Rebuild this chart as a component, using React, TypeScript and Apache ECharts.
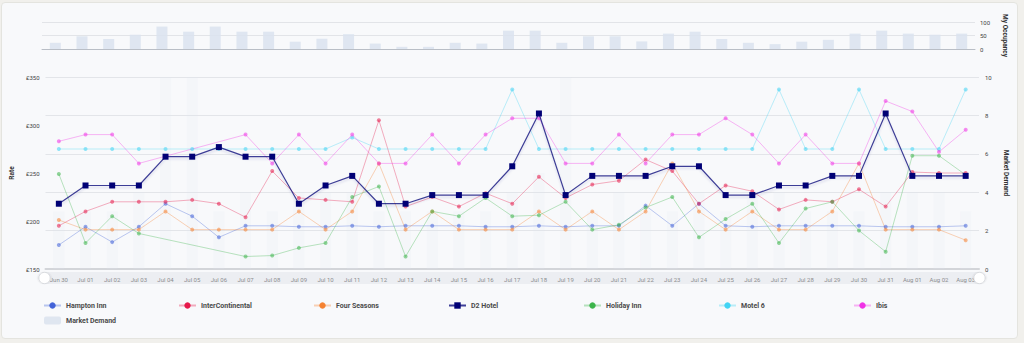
import React, { useEffect, useRef } from 'react';
import * as echarts from 'echarts';

const categories = [
  'Jun 30', 'Jul 01', 'Jul 02', 'Jul 03', 'Jul 04', 'Jul 05', 'Jul 06', 'Jul 07', 'Jul 08', 'Jul 09',
  'Jul 10', 'Jul 11', 'Jul 12', 'Jul 13', 'Jul 14', 'Jul 15', 'Jul 16', 'Jul 17', 'Jul 18', 'Jul 19',
  'Jul 20', 'Jul 21', 'Jul 22', 'Jul 23', 'Jul 24', 'Jul 25', 'Jul 26', 'Jul 27', 'Jul 28', 'Jul 29',
  'Jul 30', 'Jul 31', 'Aug 01', 'Aug 02', 'Aug 03',
];

const occupancy = [23, 47, 37, 53, 83, 64, 83, 64, 64, 27, 38, 55, 20, 8, 8, 23, 20, 68, 68, 23, 47, 47, 28, 57, 64, 37, 23, 18, 27, 34, 57, 68, 57, 53, 57];

const marketDemand = [3, 3, 3, 4, 10, 10, 3, 4, 3, 4, 4, 4, 3, 3, 3, 3, 3, 4, 5, 10, 3, 4, 3, 3, 4, 3, 4, 4, 3, 3, 3, 4, 4, 4, 3];

const hamptonInn = [175, 194, 178, 194, 218, 205, 183, 195, 195, 194, 194, 195, 194, 195, 195, 195, 194, 194, 195, 194, 195, 195, 216, 195, 218, 195, 194, 195, 195, 195, 195, 194, 194, 194, 195];
const interContinental = [195, 210, 220, 220, 220, 222, 218, 204, 252, 224, 222, 220, 305, 215, 225, 215, 229, 218, 246, 224, 238, 242, 264, 252, 218, 237, 231, 212, 222, 220, 233, 215, 251, 250, 250];
const fourSeasons = [201, 191, 191, 191, 210, 191, 191, 191, 191, 210, 191, 210, 260, 191, 210, 191, 191, 191, 210, 191, 210, 191, 210, 260, 210, 191, 210, 191, 191, 210, 260, 191, 191, 191, 180];
const d2Hotel = [218, 237, 237, 237, 267, 267, 277, 267, 267, 218, 237, 247, 218, 218, 227, 227, 227, 257, 312, 227, 247, 247, 247, 257, 257, 227, 227, 237, 237, 247, 247, 312, 247, 247, 247];
const holidayInn = [249, 177, 205, 187, null, null, null, 163, 164, 172, 177, 225, 236, 163, 210, 205, 224, 205, 206, 220, 191, 196, 214, 225, 183, 202, 218, 177, 213, 220, 190, 168, 268, 268, 248];
const motel6 = [275, 275, 275, 275, 275, 275, 275, 275, 275, 275, 275, 287, 275, 275, 275, 275, 275, 337, 275, 275, 275, 275, 275, 275, 275, 275, 275, 337, 275, 275, 337, 275, 275, 275, 337];
const ibis = [283, 290, 290, 260, null, null, null, 290, 260, 290, 260, 290, 260, 260, 290, 260, 290, 307, 307, 260, 260, 290, 260, 290, 290, 307, 290, 260, 290, 260, 260, 325, 314, 272, 295];

const hotelNames = ['Hampton Inn', 'InterContinental', 'Four Seasons', 'D2 Hotel', 'Holiday Inn', 'Motel 6', 'Ibis'];
const hotelColors = ['#4363d8', '#e6194b', '#f58231', '#000075', '#3cb44b', '#42d4f4', '#f032e6'];
const hotelData = [hamptonInn, interContinental, fourSeasons, d2Hotel, holidayInn, motel6, ibis];

export default function App() {
  const ref = useRef<HTMLDivElement>(null);

  useEffect(() => {
    const chart = echarts.init(ref.current!, null, { renderer: 'svg' });

    const hotelSeries = hotelNames.map((name, i) => {
      const isOwn = name === 'D2 Hotel';
      return {
        name,
        type: 'line',
        xAxisIndex: 1,
        yAxisIndex: 1,
        data: hotelData[i],
        connectNulls: true,
        symbol: isOwn ? 'rect' : 'circle',
        symbolSize: isOwn ? 6 : 4,
        z: isOwn ? 5 : 3,
        lineStyle: isOwn
          ? { width: 1.2, color: hotelColors[i], opacity: 0.75, shadowColor: 'rgba(0,0,117,0.18)', shadowBlur: 2, shadowOffsetY: 2 }
          : { width: 1, color: hotelColors[i], opacity: 0.35 },
        itemStyle: { color: hotelColors[i], opacity: isOwn ? 1 : 0.55 },
      };
    });

    const axisLabelStyle = { fontSize: 6, color: '#444', fontFamily: 'Roboto' };
    const nameStyle = { fontSize: 6.5, fontWeight: 'bold', color: '#333', fontFamily: 'Roboto' };

    chart.setOption({
      animation: false,
      textStyle: { fontFamily: 'Roboto' },
      grid: [
        { left: 42, right: 49, top: 22, height: 27 },
        { left: 42, right: 45, top: 77, height: 192 },
      ],
      xAxis: [
        {
          type: 'category', gridIndex: 0, data: categories,
          axisLabel: { show: false }, axisTick: { show: false },
          axisLine: { lineStyle: { color: '#b9bec6' } },
        },
        {
          type: 'category', gridIndex: 1, data: categories,
          axisTick: { show: false },
          axisLine: { lineStyle: { color: '#d3d5d9', width: 2 } },
          axisLabel: { ...axisLabelStyle, margin: 7, interval: 0 },
        },
      ],
      yAxis: [
        {
          type: 'value', gridIndex: 0, position: 'right', min: 0, max: 100, interval: 50,
          axisLabel: { ...axisLabelStyle, margin: 5 },
          axisLine: { show: false }, axisTick: { show: false },
          splitLine: { lineStyle: { color: '#e2e4e8' } },
          name: 'My Occupancy', nameLocation: 'middle', nameRotate: -90, nameGap: 21,
          nameTextStyle: nameStyle,
        },
        {
          type: 'value', gridIndex: 1, position: 'left', min: 150, max: 350, interval: 50,
          axisLabel: { ...axisLabelStyle, margin: 6, formatter: '£{value}' },
          axisLine: { show: false }, axisTick: { show: false },
          splitLine: { show: false },
          name: 'Rate', nameLocation: 'middle', nameGap: 21,
          nameTextStyle: nameStyle,
        },
        {
          type: 'value', gridIndex: 1, position: 'right', min: 0, max: 10, interval: 2,
          axisLabel: { ...axisLabelStyle, margin: 6 },
          axisLine: { show: false }, axisTick: { show: false },
          splitLine: { show: true, lineStyle: { color: '#e3e5e9' } },
          name: 'Market Demand', nameLocation: 'middle', nameRotate: -90, nameGap: 20,
          nameTextStyle: nameStyle,
        },
      ],
      dataZoom: [
        {
          type: 'slider', xAxisIndex: [0, 1], left: 42, right: 45, top: 272, height: 12,
          start: 0, end: 100, showDetail: false, showDataShadow: false, brushSelect: false,
          backgroundColor: 'rgba(222,225,230,0.45)', borderColor: 'transparent',
          fillerColor: 'rgba(0,0,0,0)', moveHandleSize: 0,
          handleIcon: 'circle', handleSize: '95%',
          handleStyle: { color: '#ffffff', borderColor: '#d8dade', shadowBlur: 2, shadowColor: 'rgba(0,0,0,0.15)' },
          dataBackground: { lineStyle: { opacity: 0 }, areaStyle: { opacity: 0 } },
        },
      ],
      legend: {
        left: 43, top: 301.5, width: 950, padding: 0,
        itemWidth: 17, itemHeight: 8, itemGap: 7,
        textStyle: { fontSize: 7, fontWeight: 'bold', color: '#4a4a4a', width: 105, lineHeight: 8, fontFamily: 'Roboto' },
        itemStyle: { opacity: 1 },
        data: [...hotelNames, 'Market Demand'],
      },
      series: [
        {
          name: 'My Occupancy', type: 'bar', xAxisIndex: 0, yAxisIndex: 0,
          data: occupancy, barWidth: 11,
          itemStyle: { color: '#dbe3ef', opacity: 0.85 },
        },
        {
          name: 'Market Demand', type: 'bar', xAxisIndex: 1, yAxisIndex: 2,
          data: marketDemand, barWidth: 11, z: 1,
          itemStyle: { color: '#dfe6f0', opacity: 0.16 },
        },
        ...hotelSeries,
      ],
    });

    return () => chart.dispose();
  }, []);

  return (
    <div style={{ position: 'fixed', inset: 0, background: '#f1f0ec' }}>
      <div
        style={{
          position: 'absolute', left: 1, top: 2, width: 1017, height: 337,
          background: '#f8f9fb', border: '1px solid #e4e4df', borderRadius: 4, boxSizing: 'border-box',
        }}
      />
      <div ref={ref} style={{ position: 'absolute', left: 0, top: 0, width: 1024, height: 343 }} />
    </div>
  );
}
